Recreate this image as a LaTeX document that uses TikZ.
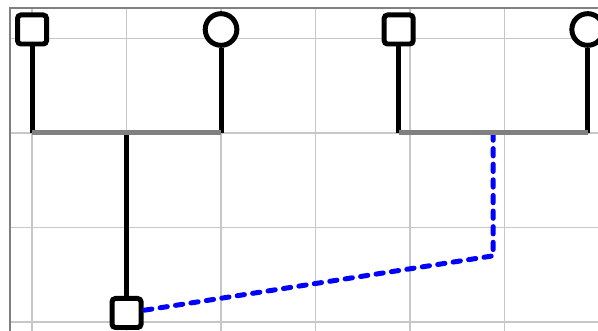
\documentclass[tikz,border=0pt]{standalone}
\usepackage{tikz}

\begin{document}
\begin{tikzpicture}[male/.style={draw, fill=white, line width=1.5pt, rounded corners=1pt, minimum size=3.07mm, inner sep=0pt},
    female/.style={draw, circle, fill=white, line width=1.5pt, minimum size=3.35mm, inner sep=0pt},
    desc/.style={line width=1.5pt},
    couple/.style={gray, line width=1.5pt},
    link/.style={blue, line width=1.5pt, dash pattern=on 2.2pt off 2.5pt, line cap=round}]
    \clip (-0.339,-2.085) rectangle (5.989,1.407);
    \draw[step=1, black!22, line width=0.45pt] (-0.233,-2.3) grid (6.3,1.323);
    \draw[gray, line width=0.7pt] (-0.233,-2.3) rectangle (6.3,1.323);

    \node[male] (1) at (0,1.095) {};
    \node[female] (2) at (2,1.095) {};
    \node[male] (3) at (3.88,1.095) {};
    \node[female] (4) at (5.88,1.095) {};
    \node[male] (5) at (1,-1.905) {};

    \coordinate (a) at (0,0);
    \coordinate (b) at (2,0);
    \coordinate (c) at (3.88,0);
    \coordinate (d) at (5.88,0);
    \coordinate (m) at (1,0);
    \coordinate (n) at (4.88,0);
    \coordinate (k) at (4.88,-1.30);

    \draw[desc] (1) -- (a);
    \draw[desc] (2) -- (b);
    \draw[desc] (3) -- (c);
    \draw[desc] (4) -- (d);
    \draw[desc] (m) -- (5);
    \draw[link] (n) -- (k) -- (5);
    \draw[couple] (a) -- (b);
    \draw[couple] (c) -- (d);
\end{tikzpicture}
\end{document}
